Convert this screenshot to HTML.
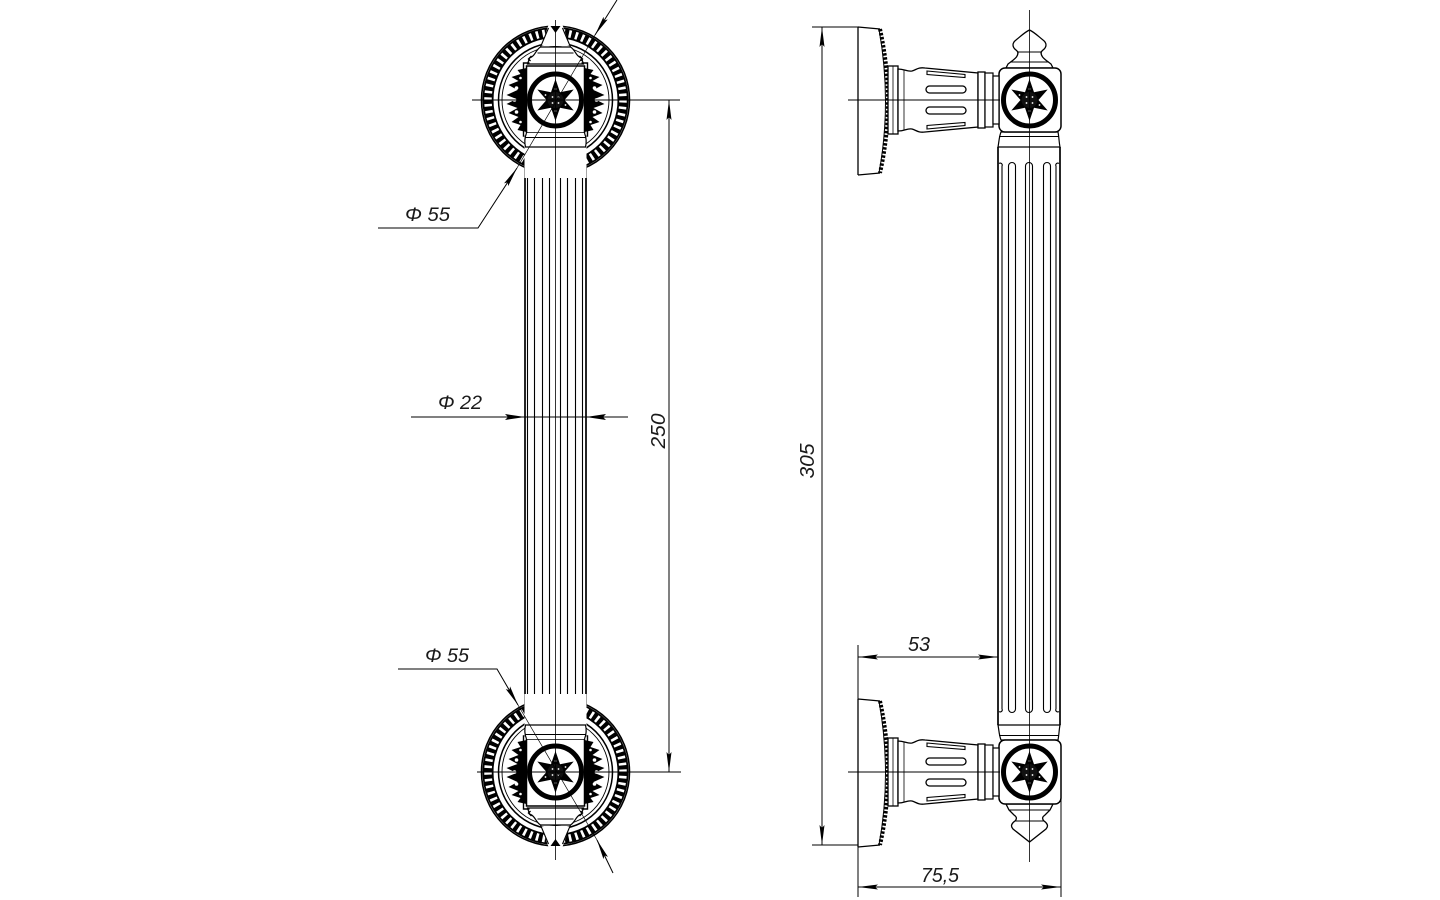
<!DOCTYPE html>
<html><head><meta charset="utf-8"><style>
html,body{margin:0;padding:0;background:#fff;}
svg{display:block;}
text{font-family:"Liberation Sans",sans-serif;font-style:italic;fill:#1a1a1a;}
</style></head><body>
<svg width="1440" height="900" viewBox="0 0 1440 900" xmlns="http://www.w3.org/2000/svg">
<defs>
<marker id="ar" viewBox="0 0 20 6" refX="20" refY="3" markerWidth="20" markerHeight="6" markerUnits="userSpaceOnUse" orient="auto-start-reverse"><path d="M0,0.5 L20,3 L0,5.5 L3,3 Z" fill="#000"/></marker>
<g id="star">
  <circle r="26" fill="#fff" stroke="#000" stroke-width="5"/>
  <path d="M0,-21 L4.5,-7.79 L18.19,-10.5 L9,0 L18.19,10.5 L4.5,7.79 L0,21 L-4.5,7.79 L-18.19,10.5 L-9,0 L-18.19,-10.5 L-4.5,-7.79 Z" fill="#000"/>
  <circle r="8" fill="#111"/>
  <circle cx="-3" cy="-3" r="0.9" fill="#fff"/>
  <circle cx="3" cy="-3" r="0.9" fill="#fff"/>
  <circle cx="-3" cy="3" r="0.9" fill="#fff"/>
  <circle cx="3" cy="3" r="0.9" fill="#fff"/>
  <circle cx="0" cy="-11" r="0.9" fill="#fff"/>
  <circle cx="0" cy="11" r="0.9" fill="#fff"/>
  <circle cx="-10" cy="-5" r="0.9" fill="#fff"/>
  <circle cx="10" cy="5" r="0.9" fill="#fff"/>
</g>
<g id="leaf">
  <path d="M-29,-32 L-38,-30 L-35,-26 L-44,-23 L-37,-19 L-47,-15 L-38,-10 L-49,-5 L-39,-1 L-49,4 L-38,8 L-47,13 L-37,17 L-44,22 L-35,25 L-38,30 L-29,32 Z" fill="#000"/>
  <circle cx="-39" cy="-12" r="1.8" fill="#fff"/>
  <circle cx="-41" cy="0" r="1.8" fill="#fff"/>
  <circle cx="-39" cy="12" r="1.8" fill="#fff"/>
  <circle cx="-35" cy="-22" r="1.3" fill="#fff"/>
  <circle cx="-35" cy="22" r="1.3" fill="#fff"/>
</g>
<g id="ros">
  <circle r="74" fill="#fff" stroke="#000" stroke-width="1.6"/>
  <circle r="67.5" fill="none" stroke="#000" stroke-width="11"/>
  <circle r="67.5" fill="none" stroke="#fff" stroke-width="7.5" stroke-dasharray="2.6 4.027"/>
  <circle r="57" fill="none" stroke="#000" stroke-width="1.5"/>
  <circle r="53.5" fill="none" stroke="#000" stroke-width="0.9"/>
  <path d="M-7,-75 L7,-75 L14,-55 L-14,-55 Z" fill="#fff"/>
  <path d="M-5,-74 L5,-74 L0,-67 Z" fill="#000"/>
  <path d="M-7,-72 L-15,-53 M7,-72 L15,-53" stroke="#000" stroke-width="1.1" fill="none"/>
  <path d="M-15,-53 L15,-53 C20,-50 20,-44 26,-42 L28,-36 L-28,-36 L-26,-42 C-20,-44 -20,-50 -15,-53 Z" fill="#fff" stroke="#000" stroke-width="1.2"/>
  <line x1="-18" y1="-47" x2="18" y2="-47" stroke="#000" stroke-width="0.9"/>
  <path d="M-24,-44 l-3,3 l2,2 M24,-44 l3,3 l-2,2" stroke="#000" stroke-width="1.4" fill="none"/>
  <use href="#leaf"/>
  <use href="#leaf" transform="scale(-1,1)"/>
  <rect x="-29" y="-34" width="58" height="67" fill="#fff" stroke="#000" stroke-width="1.5"/>
  <path d="M-32,-29 V-37 H-26 M32,-29 V-37 H26 M-32,28 V36 H-26 M32,28 V36 H26" stroke="#000" stroke-width="1.4" fill="none"/>
  <rect x="-31" y="33" width="62" height="45" fill="#fff"/>
  <path d="M-29,33 C-31,38 -31,43 -30,47 H30 C31,43 31,38 29,33" fill="#fff" stroke="#000" stroke-width="1.2"/>
  <line x1="-30" y1="37.5" x2="30" y2="37.5" stroke="#000" stroke-width="0.9"/>
  <use href="#star"/>
</g>
<g id="stand">
  <path d="M858,-73 V75 M858,-73 L880,-71 M858,75 L880,73" stroke="#000" stroke-width="1.3" fill="none"/>
  <path d="M880,-71 Q896,2 880,73" stroke="#000" stroke-width="4" stroke-dasharray="2.5 1.6" fill="none"/>
  <path d="M879,-71 Q892,2 879,73" stroke="#000" stroke-width="1" fill="none"/>
  <rect x="888" y="-34" width="10" height="68" fill="#fff" stroke="#000" stroke-width="1.3"/>
  <line x1="893" y1="-34" x2="893" y2="34" stroke="#000" stroke-width="0.8"/>
  <path d="M898,-31 C905,-31 907,-28 912,-29 C916,-30 918,-33 925,-32 L978,-27 L978,27 L925,32 C918,33 916,30 912,29 C907,28 905,31 898,31 Z" fill="#fff" stroke="#000" stroke-width="1.3"/>
  <line x1="904" y1="-30" x2="904" y2="30" stroke="#000" stroke-width="0.8"/>
  <rect x="926" y="-14" width="40" height="7" rx="3.5" fill="#fff" stroke="#000" stroke-width="1.3"/>
  <rect x="926" y="7" width="40" height="7" rx="3.5" fill="#fff" stroke="#000" stroke-width="1.3"/>
  <path d="M927,-29 L965,-25.5 L965,-22.5 L927,-25.5 Z M927,29 L965,25.5 L965,22.5 L927,25.5 Z" fill="#fff" stroke="#000" stroke-width="1.1"/>
  <rect x="978" y="-28" width="7" height="56" fill="#fff" stroke="#000" stroke-width="1.3"/>
  <rect x="985" y="-27" width="8" height="54" fill="#fff" stroke="#000" stroke-width="1.2"/>
  <rect x="993" y="-24" width="6" height="48" fill="#fff" stroke="#000" stroke-width="1.2"/>
  <line x1="848" y1="0" x2="1000" y2="0" stroke="#000" stroke-width="0.9"/>
</g>
</defs>

<!-- ============ LEFT VIEW ============ -->
<g stroke="#000" fill="none" stroke-width="1.1">
  <line x1="525" y1="147" x2="525" y2="725" stroke-width="1.7"/>
  <line x1="586" y1="147" x2="586" y2="725" stroke-width="1.7"/>
  <path d="M527.5,709 V166 A3.5,3.5 0 0 1 534.5,166 V709 A3.5,3.5 0 0 1 527.5,709"/>
  <path d="M542.5,709 V166 A3.5,3.5 0 0 1 549.5,166 V709 A3.5,3.5 0 0 1 542.5,709"/>
  <path d="M560.5,709 V166 A3.5,3.5 0 0 1 567.5,166 V709 A3.5,3.5 0 0 1 560.5,709"/>
  <path d="M575.5,709 V166 A3.5,3.5 0 0 1 582.5,166 V709 A3.5,3.5 0 0 1 575.5,709"/>
</g>
<use href="#ros" transform="translate(555.5,100)"/>
<use href="#ros" transform="translate(555.5,772) scale(1,-1)"/>
<line x1="555.5" y1="20" x2="555.5" y2="860" stroke="#000" stroke-width="0.8"/>
<line x1="472" y1="100" x2="680" y2="100" stroke="#000" stroke-width="0.9"/>
<line x1="477" y1="772" x2="681" y2="772" stroke="#000" stroke-width="0.9"/>
<line x1="517" y1="168" x2="595" y2="35" stroke="#000" stroke-width="0.7"/>
<line x1="518" y1="705" x2="597" y2="840" stroke="#000" stroke-width="0.7"/>
<line x1="669" y1="100" x2="669" y2="772" stroke="#000" stroke-width="1" marker-start="url(#ar)" marker-end="url(#ar)"/>
<text transform="translate(665,431) rotate(-90)" font-size="20" text-anchor="middle" textLength="35" lengthAdjust="spacingAndGlyphs">250</text>

<line x1="411" y1="417" x2="628" y2="417" stroke="#000" stroke-width="1"/>
<path d="M505,414 L525,417 L505,420 L508,417 Z M606,414 L586,417 L606,420 L603,417 Z" fill="#000"/>
<text x="438" y="409" font-size="19" textLength="44" lengthAdjust="spacingAndGlyphs">Φ 22</text>

<polyline points="378,228 478,228 517,168" fill="none" stroke="#000" stroke-width="1" marker-end="url(#ar)"/>
<line x1="617" y1="0" x2="595" y2="35" stroke="#000" stroke-width="1" marker-end="url(#ar)"/>
<text x="405" y="221" font-size="19" textLength="45" lengthAdjust="spacingAndGlyphs">Φ 55</text>

<polyline points="398,669 497,669 518,705" fill="none" stroke="#000" stroke-width="1" marker-end="url(#ar)"/>
<line x1="613" y1="873" x2="597" y2="840" stroke="#000" stroke-width="1" marker-end="url(#ar)"/>
<text x="425" y="662" font-size="19" textLength="44" lengthAdjust="spacingAndGlyphs">Φ 55</text>

<!-- ============ RIGHT VIEW ============ -->
<g stroke="#000" fill="none" stroke-width="1.1">
  <line x1="998" y1="147" x2="998" y2="725" stroke-width="1.7"/>
  <line x1="1060" y1="147" x2="1060" y2="725" stroke-width="1.7"/>
  <path d="M1002,709 V166 A2,2 0 0 0 999,163.5"/>
  <path d="M1056,709 V166 A2,2 0 0 1 1059,163.5"/>
  <path d="M1002,709 A2,2 0 0 1 999,711.5"/>
  <path d="M1056,709 A2,2 0 0 0 1059,711.5"/>
  <path d="M1008.5,709 V166 A3.5,3.5 0 0 1 1015.5,166 V709 A3.5,3.5 0 0 1 1008.5,709"/>
  <path d="M1025.5,709 V166 A3.5,3.5 0 0 1 1032.5,166 V709 A3.5,3.5 0 0 1 1025.5,709"/>
  <path d="M1043.5,709 V166 A3.5,3.5 0 0 1 1050.5,166 V709 A3.5,3.5 0 0 1 1043.5,709"/>
</g>
<g stroke="#000" stroke-width="1.2" fill="#fff">
  <path d="M1001,132 C999,137 999,142 998,147 H1060 C1059,142 1059,137 1058,132 Z"/>
  <path d="M1001,740 C999,735 999,730 998,725 H1060 C1059,730 1059,735 1058,740 Z"/>
</g>
<line x1="999" y1="136.5" x2="1059" y2="136.5" stroke="#000" stroke-width="0.9"/>
<line x1="999" y1="735.5" x2="1059" y2="735.5" stroke="#000" stroke-width="0.9"/>
<path d="M1029.5,30 C1025,32 1021,36 1016,40 C1012,43 1012,47 1016,50 L1018,52 C1018,56 1016,58 1012,61 L1008,64 L1006,68 L1053,68 L1051,64 L1047,61 C1043,58 1041,56 1041,52 L1043,50 C1047,47 1047,43 1043,40 C1038,36 1034,32 1029.5,30 Z" fill="#fff" stroke="#000" stroke-width="1.3"/>
<line x1="1017" y1="52" x2="1042" y2="52" stroke="#000" stroke-width="0.9"/>
<line x1="1010" y1="62" x2="1049" y2="62" stroke="#000" stroke-width="0.9"/>
<path d="M1006,804 L1053,804 L1050,810 L1045,815 C1042,817 1042,819 1044,821 C1047,823 1049,826 1046,829 L1029.5,842 L1013,829 C1010,826 1012,823 1015,821 C1017,819 1017,817 1014,815 L1009,810 Z" fill="#fff" stroke="#000" stroke-width="1.3"/>
<line x1="1009" y1="810" x2="1050" y2="810" stroke="#000" stroke-width="0.9"/>
<line x1="1015" y1="821" x2="1044" y2="821" stroke="#000" stroke-width="0.9"/>
<rect x="999" y="68" width="62" height="64" rx="6" fill="#fff" stroke="#000" stroke-width="1.5"/>
<rect x="999" y="740" width="62" height="64" rx="6" fill="#fff" stroke="#000" stroke-width="1.5"/>
<use href="#star" transform="translate(1029.5,100)"/>
<use href="#star" transform="translate(1029.5,772)"/>
<use href="#stand" transform="translate(0,100)"/>
<use href="#stand" transform="translate(0,772)"/>
<line x1="1029.5" y1="10" x2="1029.5" y2="862" stroke="#000" stroke-width="0.8"/>

<line x1="812" y1="27" x2="858" y2="27" stroke="#000" stroke-width="1"/>
<line x1="812" y1="845" x2="858" y2="845" stroke="#000" stroke-width="1"/>
<line x1="822" y1="27" x2="822" y2="845" stroke="#000" stroke-width="1" marker-start="url(#ar)" marker-end="url(#ar)"/>
<text transform="translate(814,461) rotate(-90)" font-size="20" text-anchor="middle" textLength="35" lengthAdjust="spacingAndGlyphs">305</text>

<line x1="858" y1="645" x2="858" y2="699" stroke="#000" stroke-width="1"/>
<line x1="858" y1="847" x2="858" y2="897" stroke="#000" stroke-width="1"/>
<line x1="858" y1="657" x2="998" y2="657" stroke="#000" stroke-width="1" marker-start="url(#ar)" marker-end="url(#ar)"/>
<text x="908" y="651" font-size="20" textLength="22" lengthAdjust="spacingAndGlyphs">53</text>

<line x1="1061" y1="800" x2="1061" y2="897" stroke="#000" stroke-width="1"/>
<line x1="858" y1="887" x2="1061" y2="887" stroke="#000" stroke-width="1" marker-start="url(#ar)" marker-end="url(#ar)"/>
<text x="921" y="882" font-size="20" textLength="38" lengthAdjust="spacingAndGlyphs">75,5</text>
</svg>
</body></html>
